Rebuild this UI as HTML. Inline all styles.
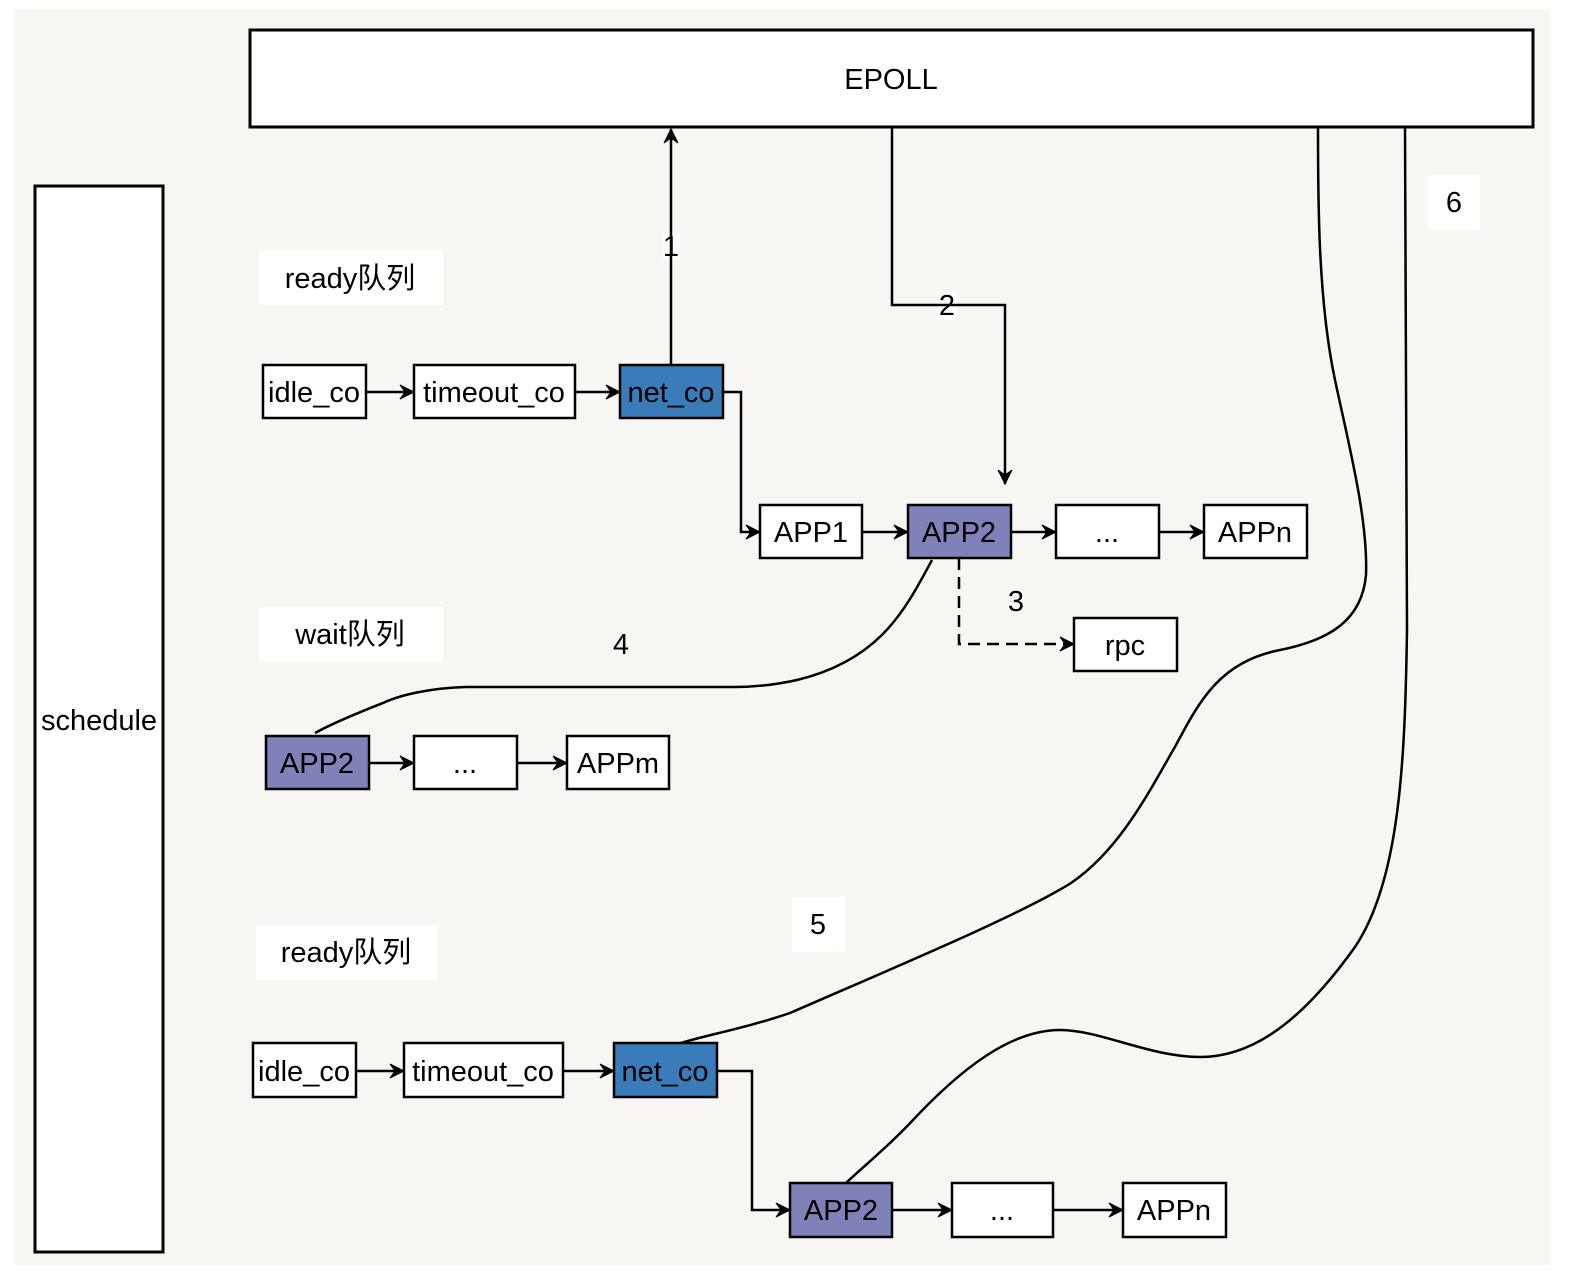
<!DOCTYPE html>
<html><head><meta charset="utf-8"><style>
html,body{margin:0;padding:0;background:#fff;}
svg{display:block;}
text{font-family:"Liberation Sans","Noto Sans CJK SC",sans-serif;font-size:29px;fill:#000;}
</style></head><body>
<svg width="1572" height="1282" viewBox="0 0 1572 1282" xmlns="http://www.w3.org/2000/svg">
<defs>
<marker id="a" markerWidth="18" markerHeight="16" refX="15" refY="8" orient="auto" markerUnits="userSpaceOnUse">
<path d="M1,1 L15,8 L1,15 L6,8 Z" fill="#000" stroke="#000" stroke-width="1"/>
</marker>
</defs>
<rect x="14" y="9" width="1536" height="1256" fill="#f7f6f2"/>
<g stroke="#000" stroke-width="3">
<rect x="250" y="30" width="1283" height="97" fill="#fff"/>
<rect x="35" y="186" width="128" height="1066" fill="#fff"/>
</g>
<text x="891" y="89" text-anchor="middle">EPOLL</text>
<text x="99" y="730" text-anchor="middle">schedule</text>

<g fill="#fff">
<rect x="259" y="250" width="184" height="55"/>
<rect x="259" y="607" width="184" height="55"/>
<rect x="256" y="925" width="182" height="55"/>
<rect x="1428" y="175" width="52" height="55"/>
<rect x="792" y="897" width="53" height="55"/>
<rect x="663" y="232" width="17" height="28"/>
<rect x="937" y="292" width="20" height="28"/>
</g>
<text x="350" y="288" text-anchor="middle">ready队列</text>
<text x="350" y="644" text-anchor="middle">wait队列</text>
<text x="346" y="962" text-anchor="middle">ready队列</text>
<text x="1454" y="212" text-anchor="middle">6</text>
<text x="818" y="934" text-anchor="middle">5</text>

<g stroke="#000" stroke-width="2.5" fill="none">
<line x1="671" y1="365" x2="671" y2="129" marker-end="url(#a)"/>
<polyline points="892,127 892,305 1005,305 1005,484" marker-end="url(#a)"/>
<polyline points="723,392 741,392 741,532 760,532" marker-end="url(#a)"/>
<line x1="366" y1="392" x2="414" y2="392" marker-end="url(#a)"/>
<line x1="575" y1="392" x2="620" y2="392" marker-end="url(#a)"/>
<line x1="862" y1="532" x2="908" y2="532" marker-end="url(#a)"/>
<line x1="1011" y1="532" x2="1056" y2="532" marker-end="url(#a)"/>
<line x1="1159" y1="532" x2="1204" y2="532" marker-end="url(#a)"/>
<polyline points="959,558 959,644 1074,644" stroke-dasharray="12,7" marker-end="url(#a)"/>
<line x1="369" y1="763" x2="414" y2="763" marker-end="url(#a)"/>
<line x1="517" y1="763" x2="567" y2="763" marker-end="url(#a)"/>
<line x1="356" y1="1071" x2="404" y2="1071" marker-end="url(#a)"/>
<line x1="563" y1="1071" x2="614" y2="1071" marker-end="url(#a)"/>
<polyline points="717,1071 752,1071 752,1210 790,1210" marker-end="url(#a)"/>
<line x1="892" y1="1210" x2="952" y2="1210" marker-end="url(#a)"/>
<line x1="1053" y1="1210" x2="1123" y2="1210" marker-end="url(#a)"/>
<path d="M932,560 C905,610 880,660 797,680 C770,686 750,687 735,687 L466,687 C430,688 400,695 383,703 C360,712 335,722 315,733"/>
<path d="M1318,127 C1318,200 1318,300 1335,380 C1350,450 1368,520 1366,575 C1362,620 1330,640 1280,650 C1220,662 1200,700 1176,745 C1150,790 1120,850 1071,883 C1020,915 900,965 790,1013 C740,1030 700,1036 675,1045"/>
<path d="M1405,127 L1407,630 C1405,760 1400,880 1355,947 C1310,1010 1260,1057 1200,1057 C1150,1057 1100,1030 1060,1030 C1010,1030 960,1070 913,1120 C890,1145 865,1165 846,1183"/>
</g>

<g stroke="#000" stroke-width="2.5">
<rect x="263" y="365" width="103" height="53" fill="#fff"/>
<rect x="414" y="365" width="161" height="53" fill="#fff"/>
<rect x="620" y="365" width="103" height="53" fill="#397cb9"/>
<rect x="760" y="505" width="102" height="53" fill="#fff"/>
<rect x="908" y="505" width="103" height="53" fill="#8181ba"/>
<rect x="1056" y="505" width="103" height="53" fill="#fff"/>
<rect x="1204" y="505" width="103" height="53" fill="#fff"/>
<rect x="1074" y="618" width="103" height="53" fill="#fff"/>
<rect x="266" y="736" width="103" height="53" fill="#8181ba"/>
<rect x="414" y="736" width="103" height="53" fill="#fff"/>
<rect x="567" y="736" width="102" height="53" fill="#fff"/>
<rect x="253" y="1043" width="103" height="54" fill="#fff"/>
<rect x="404" y="1043" width="159" height="54" fill="#fff"/>
<rect x="614" y="1043" width="103" height="54" fill="#397cb9"/>
<rect x="790" y="1183" width="102" height="54" fill="#8181ba"/>
<rect x="952" y="1183" width="101" height="54" fill="#fff"/>
<rect x="1123" y="1183" width="103" height="54" fill="#fff"/>
</g>
<g text-anchor="middle">
<text x="314" y="402">idle_co</text>
<text x="494" y="402">timeout_co</text>
<text x="671" y="402">net_co</text>
<text x="811" y="542">APP1</text>
<text x="959" y="542">APP2</text>
<text x="1107" y="542">...</text>
<text x="1255" y="542">APPn</text>
<text x="1125" y="655">rpc</text>
<text x="317" y="773">APP2</text>
<text x="465" y="773">...</text>
<text x="618" y="773">APPm</text>
<text x="304" y="1081">idle_co</text>
<text x="483" y="1081">timeout_co</text>
<text x="665" y="1081">net_co</text>
<text x="841" y="1220">APP2</text>
<text x="1002" y="1220">...</text>
<text x="1174" y="1220">APPn</text>
<text x="671" y="256">1</text>
<text x="947" y="315">2</text>
<text x="1016" y="611">3</text>
<text x="621" y="654">4</text>
</g>
</svg>
</body></html>
